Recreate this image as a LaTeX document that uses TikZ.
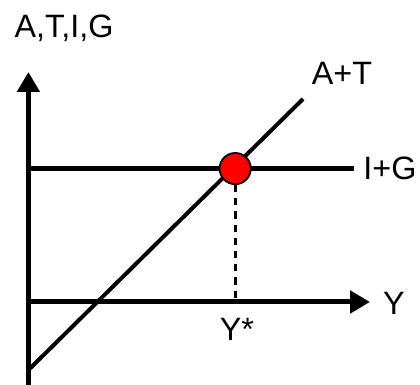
\documentclass[tikz,border=0pt]{standalone}
\usepackage{fontspec}
\setmainfont{Liberation Sans}
\usetikzlibrary{arrows.meta}

\begin{document}
\begin{tikzpicture}[
    axis/.style={line width=0.125cm, -{Triangle[length=0.5cm,width=0.55cm]}},
    lbl/.style={font=\fontsize{23}{27}\selectfont},
  ]
    \useasboundingbox (0,0) rectangle (10.5,9.625);
    \coordinate (o) at (0.71,2.075);
    \coordinate (ybot) at (0.71,0);
    \coordinate (ytop) at (0.71,7.825);
    \coordinate (xend) at (9.25,2.075);
    \coordinate (atlo) at (0.71,0.375);
    \coordinate (athi) at (7.575,7.15);
    \coordinate (iglo) at (0.71,5.41);
    \coordinate (ighi) at (8.85,5.41);
    \draw[axis] (ybot) -- (ytop);
    \draw[axis] (o) -- (xend);
    \draw[line width=0.125cm] (iglo) -- (ighi);
    \draw[line width=0.1cm] (atlo) -- (athi);
    \node[circle, draw, line width=0.045cm, fill=red, minimum size=0.78cm, inner sep=0pt] (eq) at (5.88,5.41) {};
    \coordinate (ystar) at (5.88,2.075);
    \draw[line width=0.075cm, dash pattern=on 0.18cm off 0.15cm] (eq.south) -- (ystar);
    \node[lbl] (atig) at (1.6,8.93) {A,T,I,G};
    \node[lbl] (at) at (8.55,7.8) {A+T};
    \node[lbl] (ig) at (9.75,5.41) {I+G};
    \node[lbl] (y) at (9.85,2.05) {Y};
    \node[lbl] (ys) at (5.925,1.4) {Y*};
  \end{tikzpicture}
\end{document}
